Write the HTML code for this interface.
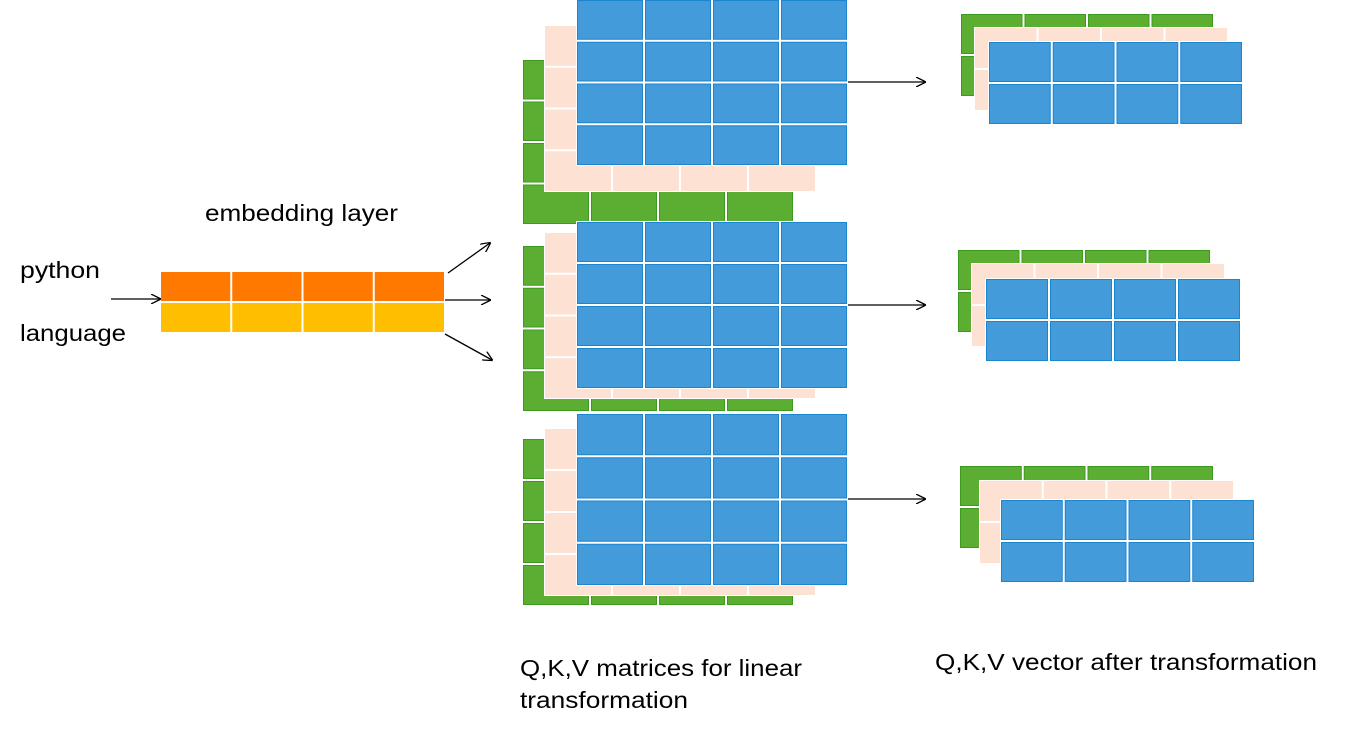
<!DOCTYPE html>
<html><head><meta charset="utf-8"><style>
html,body{margin:0;padding:0;background:#fff;}
svg{display:block}
text{font-family:"Liberation Sans",sans-serif;fill:#000}
</style></head><body>
<svg id="s" width="1358" height="733" xmlns="http://www.w3.org/2000/svg">
<defs><marker id="a" markerWidth="10" markerHeight="10" refX="9" refY="5" orient="auto" markerUnits="userSpaceOnUse"><path d="M0,0 L10,5 L0,10" fill="none" stroke="#000" stroke-width="1.3"/></marker></defs>
<g id="g"></g>
<g stroke="#000" stroke-width="1.3" fill="none" marker-end="url(#a)">
<line x1="111" y1="299" x2="160" y2="299"/>
<line x1="448" y1="273" x2="490" y2="243"/>
<line x1="445" y1="300" x2="490" y2="300"/>
<line x1="445" y1="334" x2="492" y2="360"/>
<line x1="848" y1="82" x2="925" y2="82"/>
<line x1="848" y1="305" x2="925" y2="305"/>
<line x1="848" y1="499" x2="925" y2="499"/>
</g>
<text x="205" y="221" font-size="23" textLength="193" lengthAdjust="spacingAndGlyphs">embedding layer</text>
<text x="20" y="278" font-size="23" textLength="80" lengthAdjust="spacingAndGlyphs">python</text>
<text x="20" y="341" font-size="23" textLength="106" lengthAdjust="spacingAndGlyphs">language</text>
<text x="520" y="676" font-size="23" textLength="282" lengthAdjust="spacingAndGlyphs">Q,K,V matrices for linear</text>
<text x="520" y="708" font-size="23" textLength="168" lengthAdjust="spacingAndGlyphs">transformation</text>
<text x="935" y="670" font-size="23" textLength="382" lengthAdjust="spacingAndGlyphs">Q,K,V vector after transformation</text>
</svg>
<script>
var g=document.getElementById('g'),h='';
var C={b:['#439BDA','#1A86D0'],g:['#5BAE32','#3E9A1F'],p:['#FDE1D3','#FDE1D3'],o:['#FF7800','#FF7800'],y:['#FFBF00','#FFBF00']};
function grid(x,y,w,hh,cols,rows,c){
 var cw=w/cols,rh=hh/rows;
 h+='<rect x="'+x+'" y="'+y+'" width="'+w+'" height="'+hh+'" fill="#fff"/>';
 for(var r=0;r<rows;r++)for(var k=0;k<cols;k++){
  h+='<rect x="'+(x+k*cw+1.5)+'" y="'+(y+r*rh+1.5)+'" width="'+(cw-3)+'" height="'+(rh-3)+'" fill="'+C[c][0]+'" stroke="'+C[c][1]+'" stroke-width="1"/>';
 }
}
grid(522,59,272,166,4,4,'g');grid(544,25,272,167,4,4,'p');grid(576,-1,272,167,4,4,'b');
grid(522,245,272,167,4,4,'g');grid(544,232,272,167,4,4,'p');grid(576,221,272,168,4,4,'b');
grid(522,438,272,168,4,4,'g');grid(544,428,272,168,4,4,'p');grid(576,413,272,173,4,4,'b');
grid(960,13,254,84,4,2,'g');grid(974,27,254,84,4,2,'p');grid(988,41,255,84,4,2,'b');
grid(957,249,254,84,4,2,'g');grid(971,263,254,84,4,2,'p');grid(985,278,256,84,4,2,'b');
grid(959,465,255,84,4,2,'g');grid(979,480,255,84,4,2,'p');grid(1000,499,255,84,4,2,'b');
grid(160,271,285,31,4,1,'o');grid(160,302,285,31,4,1,'y');
g.innerHTML=h;
</script>
</body></html>
